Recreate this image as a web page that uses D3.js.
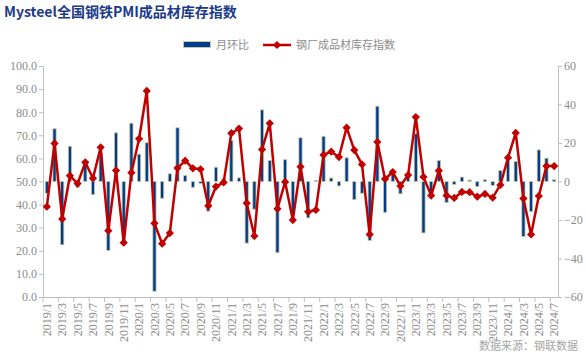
<!DOCTYPE html>
<html>
<head>
<meta charset="utf-8">
<script src="https://cdn.jsdelivr.net/npm/d3@7"></script>
<style>
  html, body { margin: 0; padding: 0; background: #fff; }
  svg { display: block; }
</style>
</head>
<body>
<svg id="chart" width="586" height="360"></svg>
<script>
const months = [
  "2019/1","2019/2","2019/3","2019/4","2019/5","2019/6","2019/7","2019/8","2019/9","2019/10","2019/11","2019/12",
  "2020/1","2020/2","2020/3","2020/4","2020/5","2020/6","2020/7","2020/8","2020/9","2020/10","2020/11","2020/12",
  "2021/1","2021/2","2021/3","2021/4","2021/5","2021/6","2021/7","2021/8","2021/9","2021/10","2021/11","2021/12",
  "2022/1","2022/2","2022/3","2022/4","2022/5","2022/6","2022/7","2022/8","2022/9","2022/10","2022/11","2022/12",
  "2023/1","2023/2","2023/3","2023/4","2023/5","2023/6","2023/7","2023/8","2023/9","2023/10","2023/11","2023/12",
  "2024/1","2024/2","2024/3","2024/4","2024/5","2024/6","2024/7"
];
// 钢厂成品材库存指数 (left axis)
const inventoryIndex = [
  39.1,66.5,33.8,52.5,49.1,58.3,51.4,64.8,28.7,54.8,23.5,53.8,
  68.5,89.2,31.9,23.1,27.7,55.8,59.0,55.7,55.3,39.5,47.8,49.6,
  70.9,72.9,40.6,26.4,63.9,75.2,38.2,49.8,33.3,56.4,36.9,37.7,
  61.5,62.9,60.6,73.3,63.6,57.4,27.1,67.1,51.1,54.1,48.1,52.8,
  77.9,52.0,43.9,54.7,43.9,42.9,45.5,45.4,43.4,44.6,43.0,48.5,
  60.3,71.0,42.6,27.1,43.7,56.7,56.7
];
// 月环比 (right axis)
const momChange = [
  -6.1,27.4,-32.9,18.3,-3.0,9.2,-6.8,14.5,-35.8,25.3,-32.5,30.3,
  14.2,20.1,-57.0,-8.7,4.0,27.9,3.1,-3.0,-1.0,-15.4,7.4,1.5,
  21.3,1.9,-32.0,-14.4,37.2,10.9,-37.0,11.3,-17.0,22.7,-18.9,0.6,
  23.5,1.8,-2.3,12.3,-9.4,-6.1,-30.6,39.1,-16.1,4.0,-6.4,3.5,
  24.8,-26.7,-8.0,10.9,-10.9,-1.5,2.3,0.7,-2.6,0.9,-2.1,5.7,
  10.9,10.4,-28.6,-15.6,16.4,12.1,0.9
];
const leftTicks = [0,10,20,30,40,50,60,70,80,90,100];
const rightTicks = [-60,-40,-20,0,20,40,60];
const xLabels = months.filter((d, i) => i % 2 === 0);

const svg = d3.select("#chart");
const L = 43, R = 558, T = 66, B = 297;
const grey = "#8c8c8c", axisGrey = "#bfbfbf";

const x = d3.scaleBand().domain(months).range([L, R]).padding(0);
const yL = d3.scaleLinear().domain([0, 100]).range([B, T]);
const yR = d3.scaleLinear().domain([-60, 60]).range([B, T]);

// Title
svg.append("text").attr("x", 4).attr("y", 17)
  .attr("font-family", "'Noto Sans CJK SC', 'DejaVu Sans', sans-serif")
  .attr("font-weight", "bold").attr("font-size", 14).attr("fill", "#1B3A8A")
  .text("Mysteel全国钢铁PMI成品材库存指数");

// Legend
const diamond = d3.symbol(d3.symbolSquare, 34)();
const lg = svg.append("g").attr("font-family", "'Noto Sans CJK SC', sans-serif").attr("font-size", 11).attr("fill", grey);
lg.append("rect").attr("x", 183.5).attr("y", 41.5).attr("width", 27).attr("height", 6)
  .attr("fill", "#003B8E").attr("stroke", "#C9C9A3").attr("stroke-width", 1);
lg.append("text").attr("x", 216).attr("y", 49).text("月环比");
lg.append("line").attr("x1", 263).attr("x2", 291).attr("y1", 45).attr("y2", 45)
  .attr("stroke", "#C00000").attr("stroke-width", 2.5);
lg.append("path").attr("d", diamond).attr("transform", "translate(277,45) rotate(45)")
  .attr("fill", "#C00000");
lg.append("text").attr("x", 296).attr("y", 49).text("钢厂成品材库存指数");

// Left axis
const axL = svg.append("g").attr("transform", `translate(${L},0)`)
  .call(d3.axisLeft(yL).tickValues(leftTicks).tickFormat(d3.format(".1f")).tickSize(4).tickSizeOuter(0));
// Right axis
const axR = svg.append("g").attr("transform", `translate(${R},0)`)
  .call(d3.axisRight(yR).tickValues(rightTicks).tickSize(4).tickSizeOuter(0));
[axL, axR].forEach(a => {
  a.select(".domain").attr("stroke", axisGrey);
  a.selectAll(".tick line").attr("stroke", axisGrey);
  a.selectAll(".tick text").attr("fill", grey).attr("font-size", 12)
    .attr("font-family", "'Liberation Serif', serif");
});
axL.selectAll(".tick text").attr("x", -6);
axR.selectAll(".tick text").attr("x", 6);

// Bottom axis
const axB = svg.append("g").attr("transform", `translate(0,${B})`)
  .call(d3.axisBottom(x).tickValues(xLabels).tickSize(0).tickSizeOuter(0));
axB.select(".domain").attr("stroke", axisGrey);
axB.selectAll(".tick text")
  .attr("transform", "rotate(-90)").attr("x", -6).attr("y", 0).attr("dy", "0.35em")
  .attr("text-anchor", "end").attr("fill", grey).attr("font-size", 12)
  .attr("font-family", "'Liberation Serif', serif");
svg.append("g").selectAll("line").data(xLabels).join("line")
  .attr("x1", d => x(d)).attr("x2", d => x(d)).attr("y1", B).attr("y2", B + 5)
  .attr("stroke", axisGrey);

// Bars
const bw = 3.2;
svg.append("g").selectAll("rect").data(momChange).join("rect")
  .attr("x", (d, i) => x(months[i]) + x.bandwidth() / 2 - bw / 2)
  .attr("y", d => Math.min(yR(d), yR(0)))
  .attr("width", bw)
  .attr("height", d => Math.abs(yR(d) - yR(0)))
  .attr("fill", "#003B8E").attr("stroke", "#C9C9A3").attr("stroke-width", 0.8);

// Line
const line = d3.line().x((d, i) => x(months[i]) + x.bandwidth() / 2).y(d => yL(d));
svg.append("path").datum(inventoryIndex).attr("d", line)
  .attr("fill", "none").attr("stroke", "#C00000").attr("stroke-width", 2.5).attr("stroke-linejoin", "round");
svg.append("g").selectAll("path").data(inventoryIndex).join("path")
  .attr("d", diamond)
  .attr("transform", (d, i) => `translate(${x(months[i]) + x.bandwidth() / 2},${yL(d)}) rotate(45)`)
  .attr("fill", "#C00000");

// Source
svg.append("text").attr("x", 578).attr("y", 350).attr("text-anchor", "end")
  .attr("font-family", "'Noto Sans CJK SC', sans-serif").attr("font-size", 11).attr("fill", "#a6a6a6")
  .text("数据来源：钢联数据");
</script>
</body>
</html>
